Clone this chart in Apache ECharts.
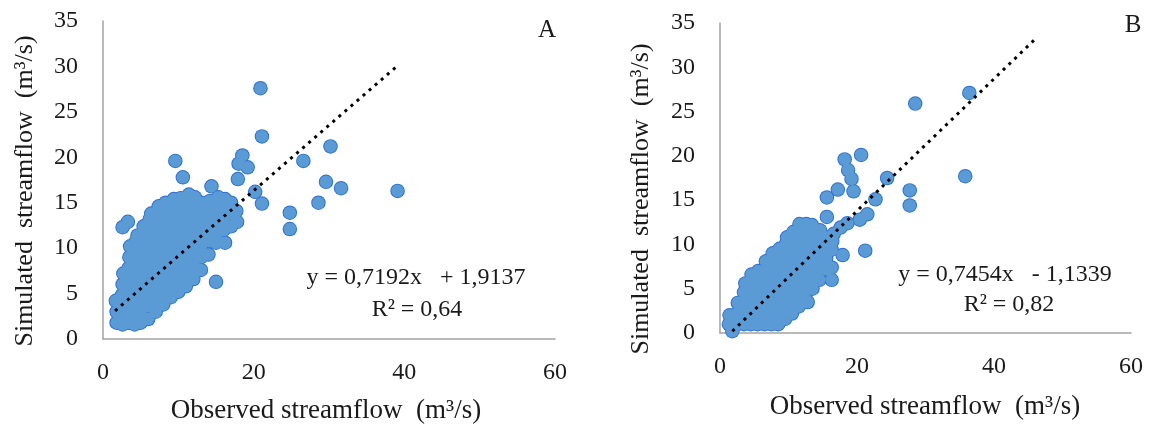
<!DOCTYPE html>
<html><head><meta charset="utf-8">
<script src="https://cdn.jsdelivr.net/npm/echarts@6/dist/echarts.min.js"></script>
<style>html,body{margin:0;padding:0;background:#fff}#c{width:1150px;height:430px}</style>
</head><body><div id="c"></div>
<script>
// ---- data ----
const xTicks = [0, 20, 40, 60];
const yTicks = [0, 5, 10, 15, 20, 25, 30, 35];
const xTitle = 'Observed streamflow  (m³/s)';
const yTitle = 'Simulated  streamflow  (m³/s)';
const panelLabels = ['A', 'B'];
const equationA = ['y = 0,7192x   + 1,9137', 'R² = 0,64'];
const equationB = ['y = 0,7454x   - 1,1339', 'R² = 0,82'];
const trendA = [[1.6, 3.1], [39.0, 30.0]];
const trendB = [[1.8, 0.2], [46.3, 33.4]];

const pointsA = [
[1.8,1.8],[1.8,3.0],[1.7,4.2],
[2.6,1.6],[2.6,2.4],[2.6,3.6],[2.5,4.8],[2.6,6.0],[2.7,7.2],
[3.4,1.8],[3.4,3.0],[3.4,4.2],[3.4,5.4],[3.4,6.6],[3.4,7.8],[3.5,9.0],[3.6,10.2],
[4.2,1.6],[4.2,2.4],[4.2,3.6],[4.2,4.8],[4.2,6.0],[4.2,7.2],[4.2,8.4],[4.3,9.6],[4.4,10.8],[4.6,11.4],
[5.0,1.8],[5.0,3.0],[5.0,4.2],[5.0,5.4],[5.0,6.6],[5.0,7.8],[5.0,9.0],[5.1,10.2],[5.2,11.4],[5.4,12.4],
[6.0,2.2],[6.0,3.6],[6.0,4.8],[6.0,6.0],[6.0,7.2],[6.0,8.4],[6.0,9.6],[6.0,10.8],[6.1,12.0],[6.2,13.2],[6.4,13.8],
[7.0,3.0],[7.0,4.2],[7.0,5.4],[7.0,6.6],[7.0,7.8],[7.0,9.0],[7.0,10.2],[7.0,11.4],[7.0,12.6],[7.1,13.8],[7.4,14.6],
[8.0,3.8],[8.0,4.8],[8.0,6.0],[8.0,7.2],[8.0,8.4],[8.0,9.6],[8.0,10.8],[8.0,12.0],[8.0,13.2],[8.1,14.4],[8.3,15.0],
[9.0,4.6],[9.0,5.4],[9.0,6.6],[9.0,7.8],[9.0,9.0],[9.0,10.2],[9.0,11.4],[9.0,12.6],[9.0,13.8],[9.2,15.0],[9.4,15.4],
[10.0,5.2],[10.0,6.0],[10.0,7.2],[10.0,8.4],[10.0,9.6],[10.0,10.8],[10.0,12.0],[10.0,13.2],[10.0,14.4],[10.3,15.5],
[11.0,5.8],[11.0,6.6],[11.0,7.8],[11.0,9.0],[11.0,10.2],[11.0,11.4],[11.0,12.6],[11.0,13.8],[11.1,15.0],[11.4,15.9],
[12.0,6.6],[12.0,7.2],[12.0,8.4],[12.0,9.6],[12.0,10.8],[12.0,12.0],[12.0,13.2],[12.0,14.4],[12.2,15.6],
[13.0,7.6],[13.0,9.0],[13.0,10.2],[13.0,11.4],[13.0,12.6],[13.0,13.8],[13.1,15.0],
[14.0,9.3],[14.0,10.8],[14.0,12.0],[14.0,13.2],[14.0,14.4],[14.2,15.2],
[15.0,10.6],[15.0,11.4],[15.0,12.6],[15.0,13.8],[15.0,15.0],[15.3,15.6],
[16.2,10.6],[16.0,12.0],[16.0,13.2],[16.0,14.4],[16.2,15.4],
[17.0,12.4],[17.0,13.8],[17.0,15.0],
[17.8,12.9],[17.7,14.1],
[20.9,27.6],[21.1,22.3],[30.2,21.2],[26.6,19.6],[9.6,19.6],[10.6,17.8],[29.6,17.3],[31.6,16.6],
[39.1,16.3],[28.6,15.0],[24.8,13.9],[24.8,12.1],[21.1,14.9],[20.2,16.2],[17.9,17.6],[14.4,16.8],
[15.0,6.3],[18.5,20.2],[18.0,19.3],[19.2,18.9],[2.6,12.3],[3.3,12.9]
];

const pointsB = [
[1.3,1.0],[1.4,2.0],[1.8,0.2],
[2.5,1.0],[2.5,2.2],[2.6,3.4],
[3.5,1.0],[3.5,2.2],[3.5,3.4],[3.5,4.6],[3.7,5.6],
[4.5,1.0],[4.5,2.2],[4.5,3.4],[4.5,4.6],[4.5,5.8],[4.6,6.6],
[5.5,1.0],[5.5,2.2],[5.5,3.4],[5.5,4.6],[5.5,5.8],[5.6,7.0],
[6.5,1.0],[6.5,2.2],[6.5,3.4],[6.5,4.6],[6.5,5.8],[6.5,7.0],[6.7,8.1],
[7.5,1.0],[7.5,2.2],[7.5,3.4],[7.5,4.6],[7.5,5.8],[7.5,7.0],[7.5,8.2],[7.7,9.0],
[8.5,1.0],[8.5,2.2],[8.5,3.4],[8.5,4.6],[8.5,5.8],[8.5,7.0],[8.5,8.2],[8.7,9.5],
[9.5,1.6],[9.5,2.8],[9.5,4.0],[9.5,5.2],[9.5,6.4],[9.5,7.6],[9.5,8.8],[9.6,10.0],[9.8,10.8],
[10.5,2.2],[10.5,3.4],[10.5,4.6],[10.5,5.8],[10.5,7.0],[10.5,8.2],[10.5,9.4],[10.5,10.6],[10.7,11.4],
[11.5,3.0],[11.5,4.2],[11.5,5.4],[11.5,6.6],[11.5,7.8],[11.5,9.0],[11.5,10.2],[11.5,11.4],[11.6,12.3],
[12.5,3.8],[12.5,5.0],[12.5,6.2],[12.5,7.4],[12.5,8.6],[12.5,9.8],[12.5,11.0],[12.6,12.3],
[13.5,5.0],[13.5,6.2],[13.5,7.4],[13.5,8.6],[13.5,9.8],[13.5,11.0],[13.4,12.2],
[14.5,6.0],[14.5,7.2],[14.5,8.4],[14.5,9.6],[14.5,10.8],[14.6,11.6],
[15.5,7.2],[15.5,8.4],[15.5,9.6],[15.5,10.8],
[16.3,9.4],[16.4,10.4],
[36.4,27.1],[28.5,25.9],[35.8,17.7],[27.7,16.1],[27.7,14.4],[24.4,17.5],[22.7,15.1],[20.6,20.1],
[18.2,19.6],[18.7,18.4],[19.2,17.4],[19.5,16.0],[17.2,16.2],[15.6,15.3],[15.6,13.1],[21.2,9.3],
[21.5,13.4],[20.4,12.8],[18.6,12.4],[17.6,11.9],[16.6,11.2],[17.9,8.8],[16.3,7.4],[16.3,6.0],[12.8,3.5]
];

// ---- chart ----
const FONT = 'Liberation Serif';
const TXT = '#1a1a1a';
const FILL = '#5b9bd5';
const EDGE = '#2c6fd1';

function xAxis(g) {
  return {
    type: 'value', gridIndex: g, min: xTicks[0], max: xTicks[xTicks.length - 1],
    interval: xTicks[1] - xTicks[0],
    axisLine: { show: true, lineStyle: { color: '#a3a3a3', width: 1.5 } },
    axisTick: { show: false }, splitLine: { show: false },
    axisLabel: { margin: 22, color: TXT, fontFamily: FONT, fontSize: 24 }
  };
}
function yAxis(g) {
  return {
    type: 'value', gridIndex: g, min: yTicks[0], max: yTicks[yTicks.length - 1],
    interval: yTicks[1] - yTicks[0],
    axisLine: { show: true, lineStyle: { color: '#a3a3a3', width: 1.5 } },
    axisTick: { show: false }, splitLine: { show: false },
    axisLabel: { margin: 25, color: TXT, fontFamily: FONT, fontSize: 24 }
  };
}
function scatterPair(g, data) {
  return [
    { type: 'scatter', xAxisIndex: g, yAxisIndex: g, data: data, symbol: 'circle', symbolSize: 14.5,
      itemStyle: { color: EDGE, opacity: 1 }, z: 2, silent: true },
    { type: 'scatter', xAxisIndex: g, yAxisIndex: g, data: data, symbol: 'circle', symbolSize: 12.6,
      itemStyle: { color: FILL, opacity: 1 }, z: 3, silent: true }
  ];
}
function trend(g, data) {
  return { type: 'line', xAxisIndex: g, yAxisIndex: g, data: data, symbol: 'none', z: 5, silent: true,
    lineStyle: { color: '#000', width: 3, type: [3, 5], cap: 'butt' } };
}
function txt(x, y, text, size, rot) {
  return { type: 'text', x: x, y: y, rotation: rot || 0, silent: true,
    style: { text: text, fill: TXT, font: size + 'px "' + FONT + '"', textAlign: 'center', textVerticalAlign: 'middle' } };
}

const chart = echarts.init(document.getElementById('c'));
chart.setOption({
  animation: false,
  backgroundColor: '#fff',
  grid: [
    { left: 103, top: 21, width: 452, height: 318 },
    { left: 720, top: 23, width: 411, height: 310 }
  ],
  xAxis: [xAxis(0), xAxis(1)],
  yAxis: [yAxis(0), yAxis(1)],
  series: [].concat(scatterPair(0, pointsA), [trend(0, trendA)], scatterPair(1, pointsB), [trend(1, trendB)]),
  graphic: [
    txt(326, 411, xTitle, 27), txt(925, 407, xTitle, 27),
    txt(25, 191, yTitle, 26, Math.PI / 2), txt(641, 199, yTitle, 26, Math.PI / 2),
    txt(547, 30, panelLabels[0], 25), txt(1133, 25, panelLabels[1], 25),
    txt(416, 278, equationA[0], 24), txt(417, 310, equationA[1], 24),
    txt(1005, 275, equationB[0], 24), txt(1009, 305, equationB[1], 24)
  ]
});
</script>
</body></html>
